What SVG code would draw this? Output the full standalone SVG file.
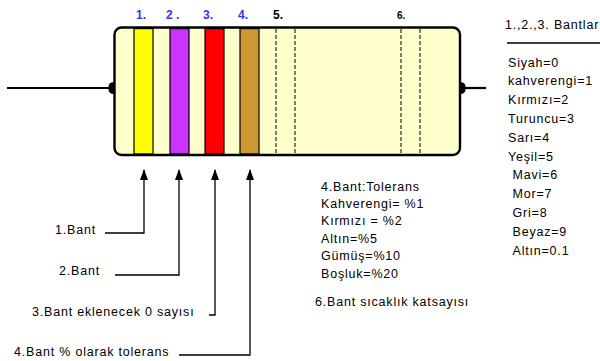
<svg xmlns="http://www.w3.org/2000/svg" width="600" height="361" viewBox="0 0 600 361">
  <style>
    .t { font-family: "Liberation Sans", Arial, sans-serif; font-size: 12.5px; letter-spacing: 0.8px; fill: #000; }
    .num { font-family: "Liberation Sans", Arial, sans-serif; font-size: 12px; font-weight: bold; fill: #3333ff; }
    .band { stroke: #000; stroke-width: 1.2; }
    .dash { stroke: #000; stroke-width: 1; stroke-dasharray: 4 2; }
    .lead { stroke: #000; stroke-width: 2.2; fill: none; }
    .conn { stroke: #000; stroke-width: 1.3; fill: none; }
  </style>
  <defs>
    <marker id="arrow" viewBox="0 0 11 8" refX="10" refY="4" markerWidth="11" markerHeight="8" markerUnits="userSpaceOnUse" orient="auto">
      <path d="M0 0 L11 4 L0 8 Z" fill="#000"/>
    </marker>
  </defs>
  <rect width="600" height="361" fill="#fff"/>

  <!-- resistor: leads, body and colour bands -->
  <g id="resistor">
    <line class="lead" x1="7" y1="88" x2="114" y2="88"/>
    <line class="lead" x1="460" y1="88" x2="486" y2="88"/>
    <path d="M114 82 Q108 82 108.5 88 Q108 94 114 94 Z" fill="#000"/>
    <path d="M460 82 Q466 82 465.5 88 Q466 94 460 94 Z" fill="#000"/>
    <rect x="114.5" y="27.5" width="345.5" height="127.5" rx="7" fill="#ffffcc" stroke="#000" stroke-width="2.4"/>
    <rect class="band" x="134" y="28.6" width="19" height="125.3" fill="#ffff00"/>
    <rect class="band" x="170" y="28.6" width="19" height="125.3" fill="#cc33ff"/>
    <rect class="band" x="205" y="28.6" width="19" height="125.3" fill="#ff0000"/>
    <rect class="band" x="240" y="28.6" width="19" height="125.3" fill="#cc9933"/>
    <line class="dash" x1="276" y1="29" x2="276" y2="154"/>
    <line class="dash" x1="295" y1="29" x2="295" y2="154"/>
    <line class="dash" x1="401" y1="29" x2="401" y2="154"/>
    <line class="dash" x1="420" y1="29" x2="420" y2="154"/>
  </g>

  <!-- band numbers -->
  <g id="band-numbers">
    <text class="num" x="136" y="19">1.</text>
    <text class="num" x="166" y="19">2 .</text>
    <text class="num" x="203" y="19">3.</text>
    <text class="num" x="238" y="19">4.</text>
    <text class="num" x="273" y="19" style="fill:#000">5.</text>
    <text class="num" x="397" y="19" style="fill:#000;font-size:10px">6.</text>
  </g>

  <!-- pointer lines from the labels up to each band -->
  <g id="connectors">
    <polyline class="conn" points="105,233 144,233 144,170" marker-end="url(#arrow)"/>
    <polyline class="conn" points="115,275 179,275 179,170" marker-end="url(#arrow)"/>
    <polyline class="conn" points="209,315 215,315 215,170" marker-end="url(#arrow)"/>
    <polyline class="conn" points="179,355 250,355 250,170" marker-end="url(#arrow)"/>
  </g>

  <g id="label-band1"><text class="t" x="55" y="234">1.Bant</text></g>
  <g id="label-band2"><text class="t" x="59" y="275">2.Bant</text></g>
  <g id="label-band3"><text class="t" x="32" y="316">3.Bant eklenecek 0 sayısı</text></g>
  <g id="label-band4"><text class="t" x="14" y="356">4.Bant % olarak tolerans</text></g>

  <!-- tolerance table -->
  <g id="tolerance">
    <text class="t" x="321" y="190.5">4.Bant:Tolerans</text>
    <text class="t" x="321" y="208">Kahverengi= %1</text>
    <text class="t" x="321" y="225">Kırmızı = %2</text>
    <text class="t" x="321" y="243">Altın=%5</text>
    <text class="t" x="321" y="260">Gümüş=%10</text>
    <text class="t" x="321" y="277.5">Boşluk=%20</text>
  </g>
  <g id="band6-note"><text class="t" x="315" y="306">6.Bant sıcaklık katsayısı</text></g>

  <!-- colour code table for bands 1-3 -->
  <g id="colour-codes">
    <text class="t" x="505" y="29">1.,2.,3. Bantlar</text>
    <line x1="507" y1="43" x2="600" y2="43" stroke="#000" stroke-width="1.3"/>
    <text class="t" x="508" y="66.5">Siyah=0</text>
    <text class="t" x="508" y="85.3">kahverengi=1</text>
    <text class="t" x="508" y="104.1">Kırmızı=2</text>
    <text class="t" x="508" y="122.9">Turuncu=3</text>
    <text class="t" x="508" y="141.7">Sarı=4</text>
    <text class="t" x="508" y="160.5">Yeşil=5</text>
    <text class="t" x="512.5" y="179.3">Mavi=6</text>
    <text class="t" x="512.5" y="198.1">Mor=7</text>
    <text class="t" x="512.5" y="216.9">Gri=8</text>
    <text class="t" x="512.5" y="235.7">Beyaz=9</text>
    <text class="t" x="512.5" y="254.5">Altın=0.1</text>
  </g>
</svg>
